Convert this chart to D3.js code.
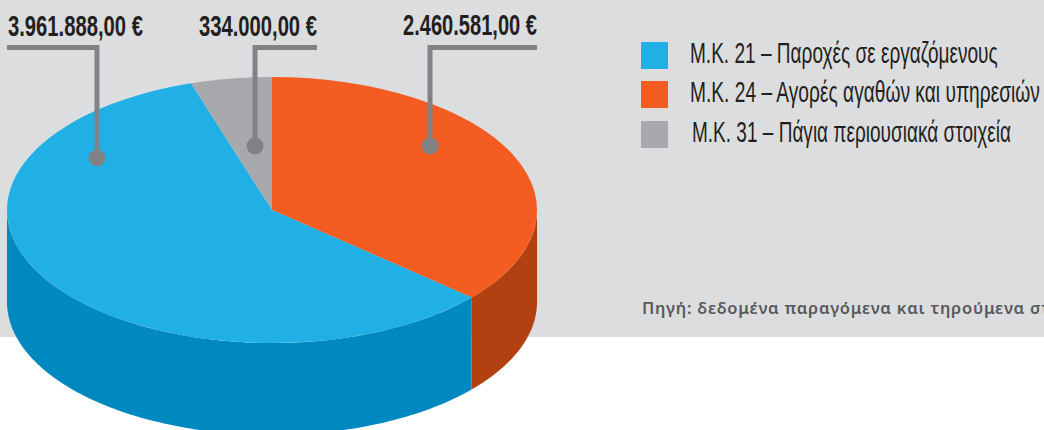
<!DOCTYPE html>
<html><head><meta charset="utf-8">
<script src="https://cdn.jsdelivr.net/npm/d3@7/dist/d3.min.js"></script>
<style>html,body{margin:0;padding:0;background:#fff;overflow:hidden}svg{display:block}</style>
</head><body><svg id="c" width="1044" height="430"></svg>
<script>
const codes = ["Μ.Κ. 24 – Αγορές αγαθών και υπηρεσιών", "Μ.Κ. 21 – Παροχές σε εργαζόμενους", "Μ.Κ. 31 – Πάγια περιουσιακά στοιχεία"];
const values = [2460581, 3961888, 334000];
const valueLabels = ["2.460.581,00 €", "3.961.888,00 €", "334.000,00 €"];
const topColors = ["#f45d22", "#20b0e6", "#a7a9ac"];
const sideColors = ["#b24011", "#0088c0", "#808285"];
const legendOrder = [1, 0, 2];
const sourceText = "Πηγή: δεδομένα παραγόμενα και τηρούμενα στη";

const svg = d3.select("#c");
const cx = 272, cy = 210, rx = 265, ry = 133, depth = 92;
svg.append("rect").attr("width", 1044).attr("height", 337).attr("fill", "#dcddde");

const arcs = d3.pie().sort(null).value(d => d)(values);
const pt = (a, dy = 0) => [cx + rx * Math.sin(a), cy - ry * Math.cos(a) + dy];

const front = [Math.PI / 2, 3 * Math.PI / 2];
const wall = d3.line();
arcs.forEach((d, i) => {
  const a0 = Math.max(d.startAngle, front[0]), a1 = Math.min(d.endAngle, front[1]);
  if (a1 <= a0) return;
  const as = d3.range(0, 121).map(k => a0 + (a1 - a0) * k / 120);
  const rim = as.map(a => pt(a)).concat(as.slice().reverse().map(a => pt(a, depth)));
  svg.append("path").attr("d", wall(rim) + "Z").attr("fill", sideColors[i]);
});

const arc = d3.arc().innerRadius(0).outerRadius(rx);
svg.append("g").attr("transform", `translate(${cx},${cy}) scale(1,${ry / rx})`)
  .selectAll("path").data(arcs).join("path").attr("d", arc).attr("fill", (d, i) => topColors[i]);

function fitted(str, x, y, width, size, weight, fill) {
  const t = svg.append("text").attr("y", y).text(str)
    .attr("font-family", "'Liberation Sans Narrow','Liberation Sans',sans-serif")
    .attr("font-size", size).attr("font-weight", weight).attr("fill", fill);
  const natural = t.node().getComputedTextLength();
  t.attr("transform", `translate(${x},0) scale(${width / natural},1)`);
  return t;
}

const leaders = [
  {i: 0, x0: 428, x1: 537, vx: 430, dy: 146, tx: 403, tw: 134, base: 35},
  {i: 1, x0: 7, x1: 99, vx: 97, dy: 158, tx: 8, tw: 135, base: 36},
  {i: 2, x0: 253, x1: 317, vx: 255, dy: 146, tx: 199, tw: 118, base: 36}
];
const grey = "#808285";
leaders.forEach(l => {
  svg.append("rect").attr("x", l.x0).attr("y", 45).attr("width", l.x1 - l.x0).attr("height", 5).attr("fill", grey);
  svg.append("rect").attr("x", l.vx - 2.5).attr("y", 45).attr("width", 5).attr("height", l.dy - 45).attr("fill", grey);
  svg.append("circle").attr("cx", l.vx).attr("cy", l.dy).attr("r", 8.5).attr("fill", grey);
  fitted(valueLabels[l.i], l.tx, l.base, l.tw, 29, 700, "#231f20");
});

const legendX = [690, 690, 692], legendTW = [308, 350, 319], legendSwatch = [42, 81, 121], legendBase = [63, 102, 142];
legendOrder.forEach((idx, k) => {
  svg.append("rect").attr("x", 641).attr("y", legendSwatch[k]).attr("width", 27).attr("height", 27).attr("fill", topColors[idx]);
  fitted(codes[idx], legendX[k], legendBase[k], legendTW[k], 29, 400, "#231f20");
});

svg.append("text").attr("x", 642).attr("y", 314).text(sourceText)
  .attr("font-family", "'Noto Sans',sans-serif").attr("font-weight", 600).attr("font-size", 16.5)
  .attr("letter-spacing", 0.75).attr("fill", "#58595b");
</script></body></html>
